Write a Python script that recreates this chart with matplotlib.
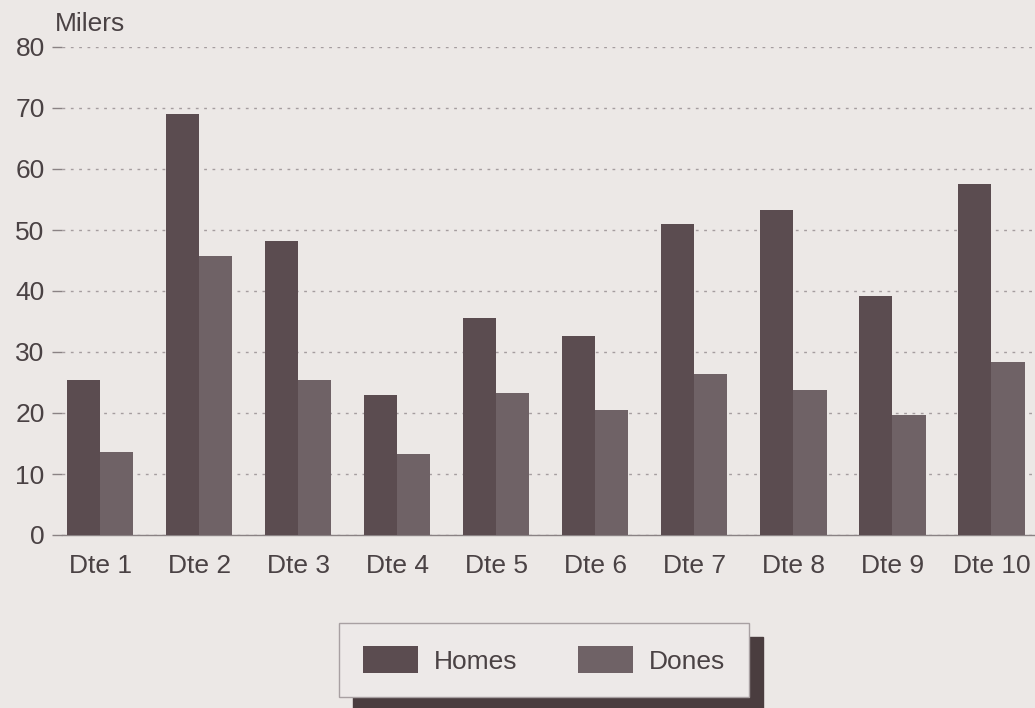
import matplotlib.pyplot as plt
import numpy as np

categories = ['Dte 1', 'Dte 2', 'Dte 3', 'Dte 4', 'Dte 5',
              'Dte 6', 'Dte 7', 'Dte 8', 'Dte 9', 'Dte 10']
homes = [25.4, 69.0, 48.2, 23.0, 35.6, 32.6, 51.0, 53.3, 39.2, 57.5]
dones = [13.6, 45.7, 25.4, 13.3, 23.3, 20.5, 26.4, 23.8, 19.7, 28.4]
yticks = [0, 10, 20, 30, 40, 50, 60, 70, 80]

bg = '#ece8e6'
text_col = '#4a4244'
homes_col = '#5b4c50'
dones_col = '#6f6266'

plt.rcParams['font.family'] = ['Liberation Sans', 'DejaVu Sans']
fs = 19

fig = plt.figure(figsize=(10.35, 7.08), dpi=100, facecolor=bg)
ax = fig.add_axes([62 / 1035, 1 - 535 / 708, 1 - 62 / 1035, (535 - 47) / 708])
ax.set_facecolor(bg)

x = np.arange(len(categories))
w = 0.335
ax.bar(x - w / 2, homes, w, color=homes_col, label='Homes', zorder=3)
ax.bar(x + w / 2, dones, w, color=dones_col, label='Dones', zorder=3)

ax.set_xlim(-0.384, 9.44)
ax.set_ylim(0, 80)
ax.set_yticks(yticks)
ax.set_xticks(x)
ax.set_xticklabels(categories)
ax.tick_params(axis='y', length=7.5, width=1, color='#8a8284', labelsize=fs,
               labelcolor=text_col, pad=5)
ax.tick_params(axis='x', length=0, labelsize=fs, labelcolor=text_col, pad=14)

for s in ['top', 'right', 'left']:
    ax.spines[s].set_visible(False)
ax.spines['bottom'].set_color('#8a8284')
ax.spines['bottom'].set_linewidth(1)

ax.yaxis.grid(True, linestyle=(0, (2, 4)), color='#a59d9f', linewidth=1, zorder=0)

fig.text(55 / 1035, 1 - 24 / 708, 'Milers', fontsize=fs, color=text_col,
         ha='left', va='center')

leg = fig.legend(loc='center', bbox_to_anchor=(544 / 1035, 1 - 660 / 708),
                 ncol=2, fontsize=fs, frameon=True, fancybox=False,
                 handlelength=2.1, handleheight=1.15, columnspacing=2.3,
                 borderpad=0.9, handletextpad=0.6,
                 shadow={'ox': 10, 'oy': -10, 'color': '#4a3d3f', 'alpha': 1})
leg.get_frame().set_facecolor('#ede9e8')
leg.get_frame().set_edgecolor('#a8a0a2')
leg.get_frame().set_linewidth(1)
for t in leg.get_texts():
    t.set_color(text_col)

fig.savefig('out.png', dpi=100, facecolor=bg)
